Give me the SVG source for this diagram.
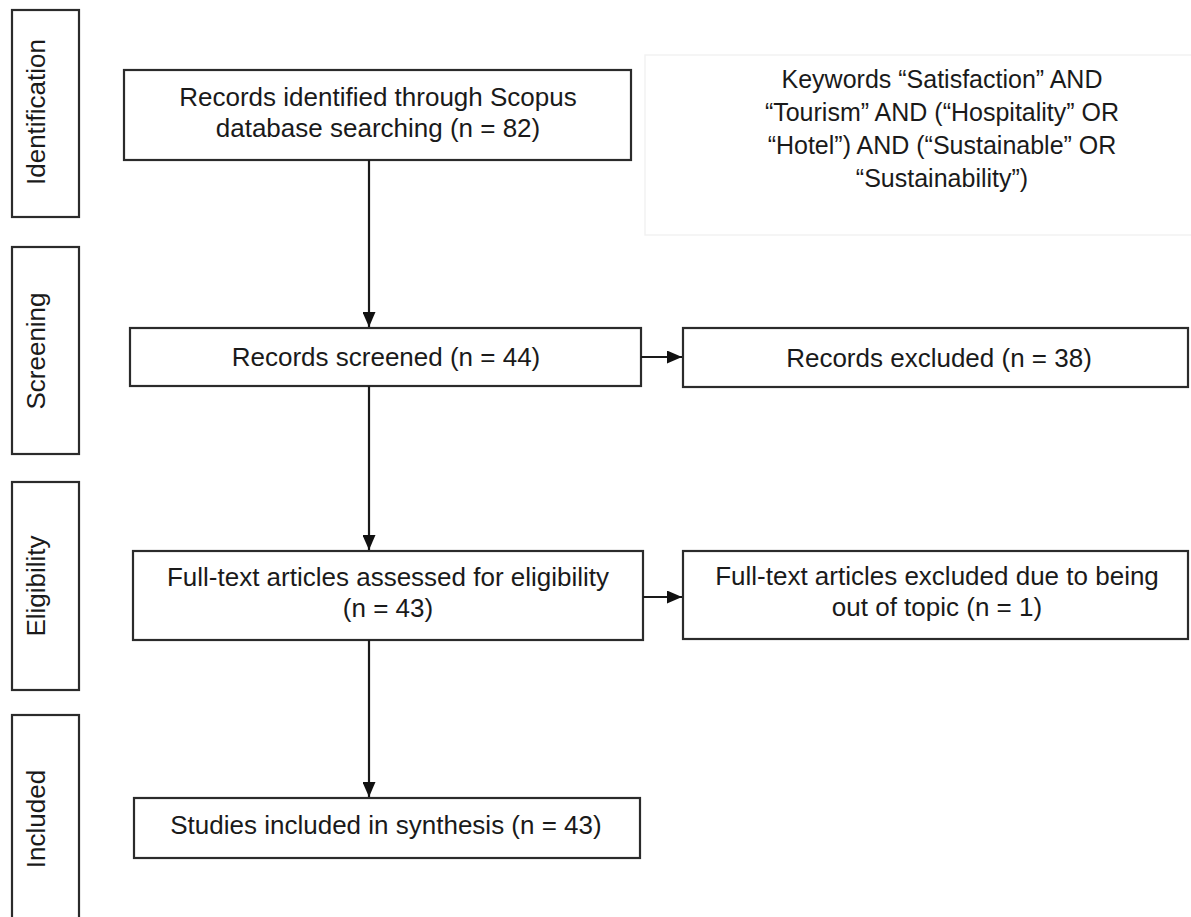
<svg xmlns="http://www.w3.org/2000/svg" width="1191" height="917" viewBox="0 0 1191 917">
<style>
  .box{fill:#fff;stroke:#2b2b2b;stroke-width:2.2}
  .t{font-family:"Liberation Sans",Arial,sans-serif;font-size:26px;fill:#1a1a1a;text-anchor:middle}
  .kw{font-family:"Liberation Sans",Arial,sans-serif;font-size:25px;fill:#1a1a1a;text-anchor:middle}
  .side{font-family:"Liberation Sans",Arial,sans-serif;font-size:26px;fill:#1a1a1a;text-anchor:middle}
  .edge{stroke:#1a1a1a;stroke-width:2.2;fill:none}
</style>
<defs>
  <marker id="ah" markerWidth="15" markerHeight="13" refX="15" refY="6.5" orient="auto" markerUnits="userSpaceOnUse" viewBox="0 0 15 13">
    <path d="M0,0 L15,6.5 L0,13 z" fill="#111"/>
  </marker>
</defs>
<rect width="1191" height="917" fill="#fff"/>

<g id="stage-identification">
  <rect class="box" x="12" y="10" width="67" height="207"/>
  <text class="side" transform="translate(45,112) rotate(-90)">Identification</text>
</g>
<g id="stage-screening">
  <rect class="box" x="12" y="247" width="67" height="207"/>
  <text class="side" transform="translate(45,351) rotate(-90)">Screening</text>
</g>
<g id="stage-eligibility">
  <rect class="box" x="12" y="482" width="67" height="208"/>
  <text class="side" transform="translate(45,586) rotate(-90)">Eligibility</text>
</g>
<g id="stage-included">
  <rect class="box" x="12" y="715" width="67" height="220"/>
  <text class="side" transform="translate(45,819) rotate(-90)">Included</text>
</g>

<g id="keywords">
  <rect x="645" y="55" width="570" height="180" fill="#fff" stroke="#f2f2f2" stroke-width="1.5"/>
  <text class="kw" x="942" y="88">Keywords “Satisfaction” AND</text>
  <text class="kw" x="942" y="121">“Tourism” AND (“Hospitality” OR</text>
  <text class="kw" x="942" y="154">“Hotel”) AND (“Sustainable” OR</text>
  <text class="kw" x="942" y="187">“Sustainability”)</text>
</g>

<g id="identified">
  <rect class="box" x="124" y="70" width="507" height="90"/>
  <text class="t" x="378" y="106">Records identified through Scopus</text>
  <text class="t" x="378" y="137">database searching (n = 82)</text>
</g>
<g id="screened">
  <rect class="box" x="130" y="328" width="511" height="58"/>
  <text class="t" x="386" y="366">Records screened (n = 44)</text>
</g>
<g id="excluded">
  <rect class="box" x="683" y="328" width="505" height="59"/>
  <text class="t" x="939" y="367">Records excluded (n = 38)</text>
</g>
<g id="assessed">
  <rect class="box" x="133" y="551" width="510" height="89"/>
  <text class="t" x="388" y="586">Full-text articles assessed for eligibility</text>
  <text class="t" x="388" y="617">(n = 43)</text>
</g>
<g id="fulltext-excluded">
  <rect class="box" x="683" y="551" width="505" height="88"/>
  <text class="t" x="937" y="585">Full-text articles excluded due to being</text>
  <text class="t" x="937" y="616">out of topic (n = 1)</text>
</g>
<g id="included">
  <rect class="box" x="134" y="798" width="506" height="60"/>
  <text class="t" x="386" y="834">Studies included in synthesis (n = 43)</text>
</g>

<g id="connectors">
  <line class="edge" x1="369" y1="160" x2="369" y2="327" marker-end="url(#ah)"/>
  <line class="edge" x1="369" y1="386" x2="369" y2="550" marker-end="url(#ah)"/>
  <line class="edge" x1="369" y1="640" x2="369" y2="797" marker-end="url(#ah)"/>
  <line class="edge" x1="641" y1="357" x2="682" y2="357" marker-end="url(#ah)"/>
  <line class="edge" x1="643" y1="597" x2="682" y2="597" marker-end="url(#ah)"/>
</g>
</svg>
